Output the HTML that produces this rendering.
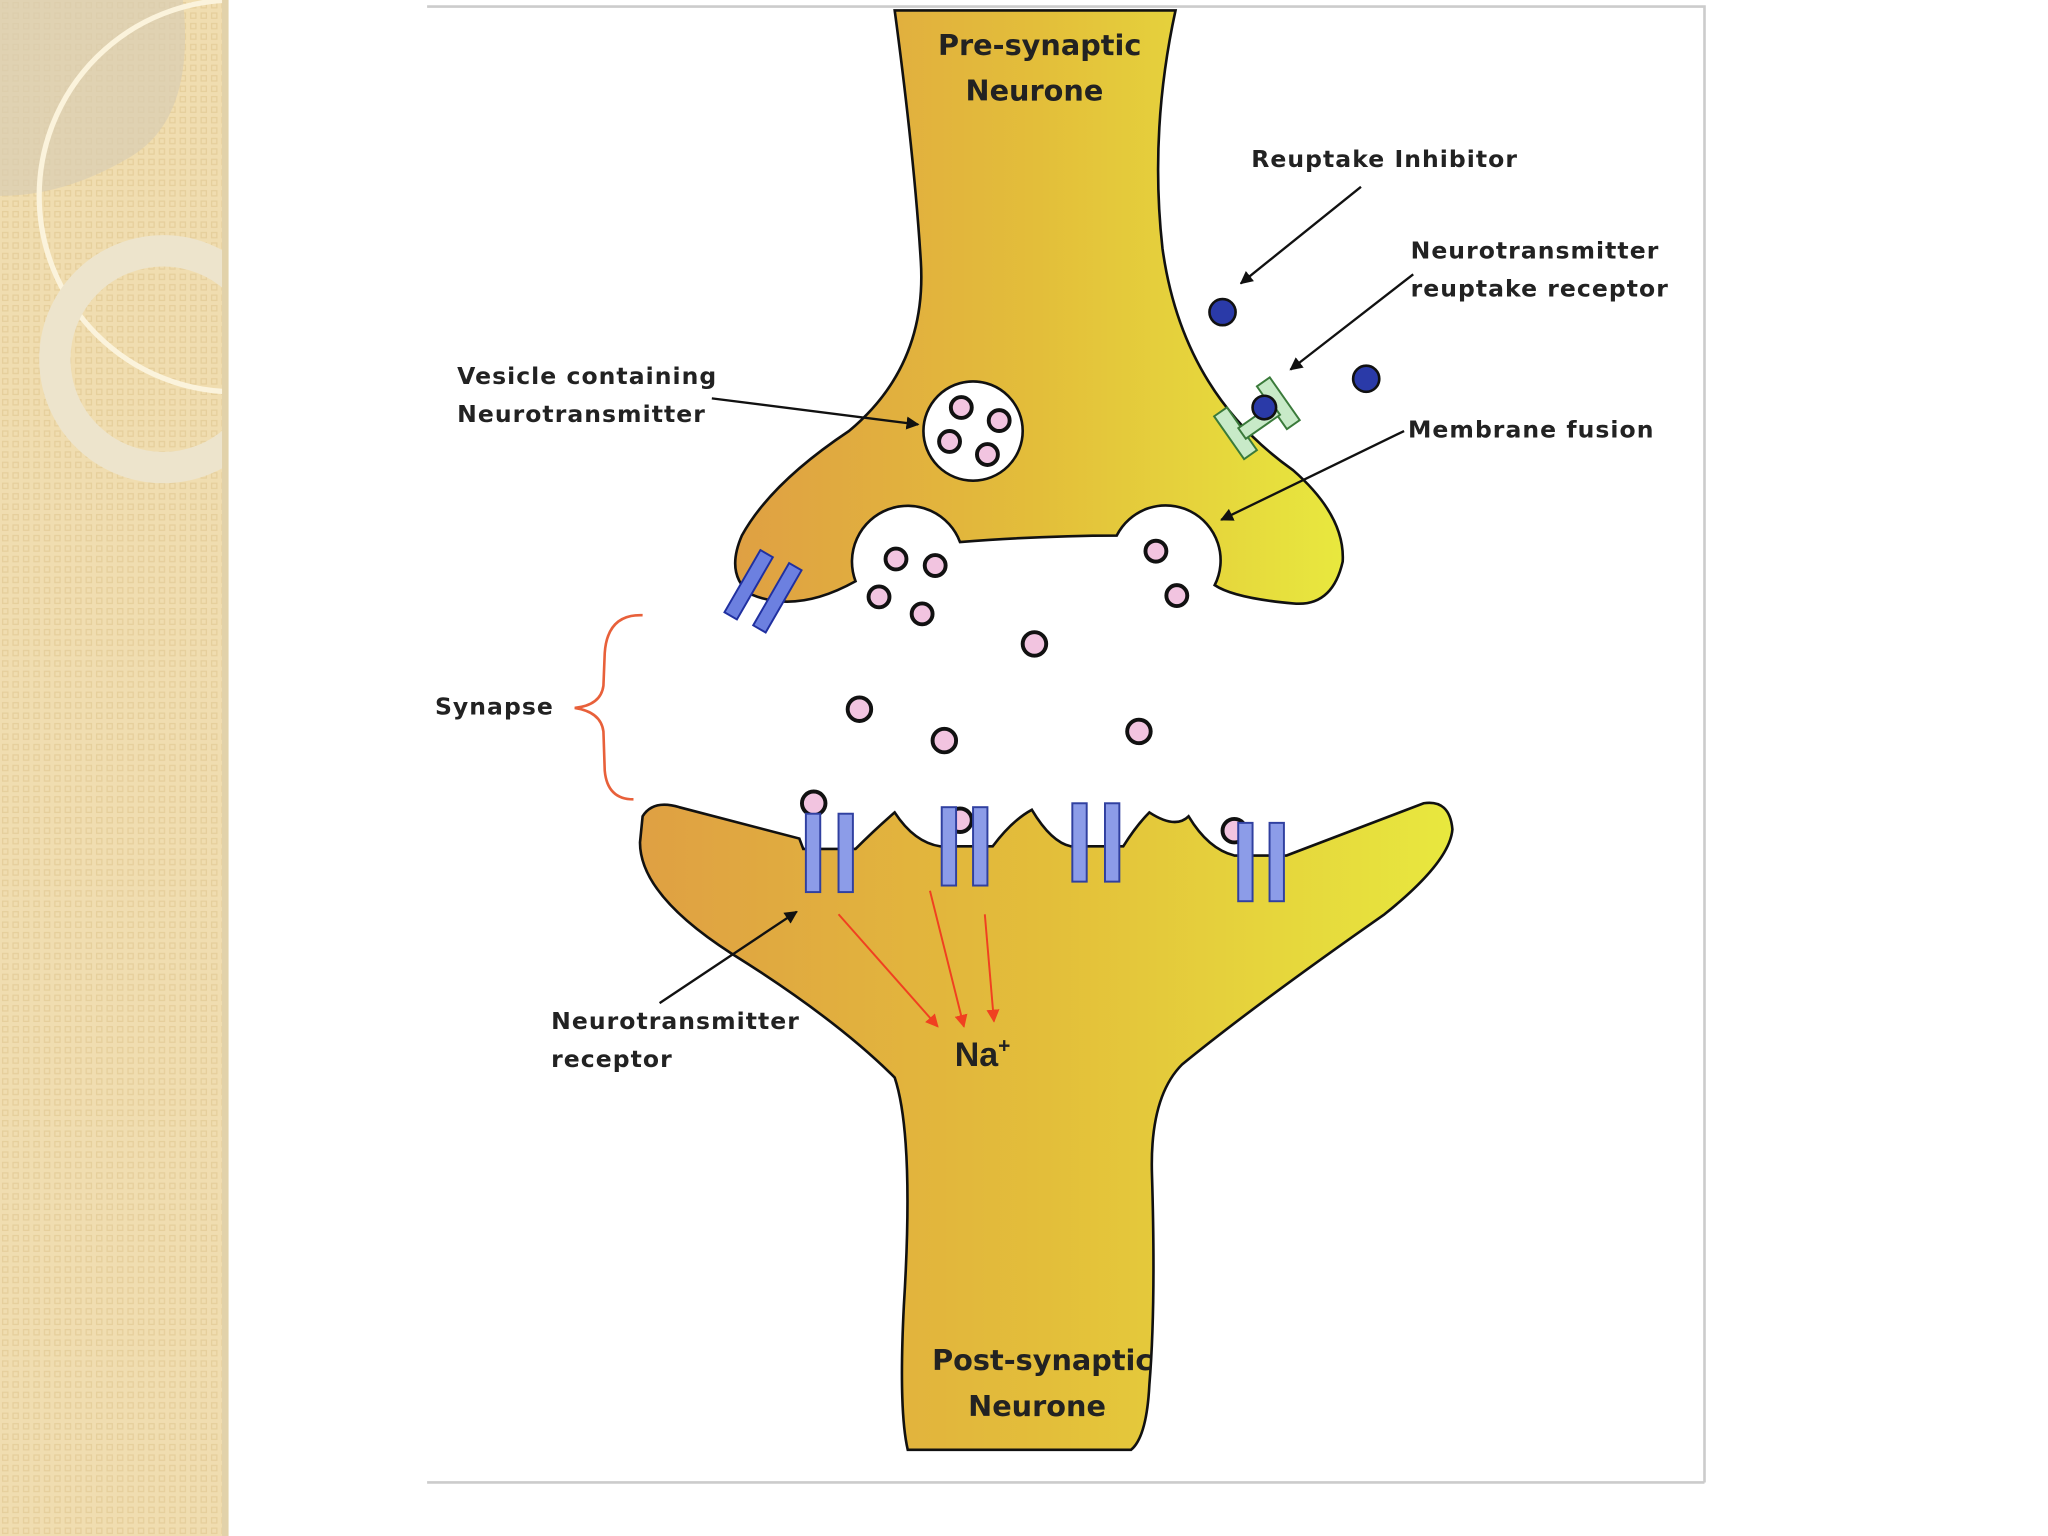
<!DOCTYPE html>
<html><head><meta charset="utf-8"><style>
html,body{margin:0;padding:0;background:#fff;}
svg{display:block;}
text{font-family:"DejaVu Sans","Liberation Sans",sans-serif;font-weight:bold;fill:#222;}
</style></head><body>
<svg width="2048" height="1536" viewBox="0 0 1568 1176" xmlns="http://www.w3.org/2000/svg">
<defs>
<linearGradient id="g" x1="0" x2="1" y1="0" y2="0">
<stop offset="0" stop-color="#DFA043"/><stop offset="0.5" stop-color="#E3BE3A"/><stop offset="1" stop-color="#E8E83E"/>
</linearGradient>
<pattern id="p" width="8" height="8" patternUnits="userSpaceOnUse">
<rect width="8" height="8" fill="#F0DDB0"/><rect x="2" y="2" width="4" height="4" fill="none" stroke="#E6CF9C" stroke-width="1"/>
</pattern>
<clipPath id="cp"><rect x="0" y="0" width="173" height="1176"/></clipPath>
<marker id="ab" markerWidth="10" markerHeight="10" refX="9" refY="5" orient="auto" markerUnits="userSpaceOnUse"><path d="M0,0 L10,5 L0,10 z" fill="#111"/></marker>
<marker id="ar" markerWidth="10" markerHeight="10" refX="9" refY="5" orient="auto" markerUnits="userSpaceOnUse"><path d="M0,0 L10,5 L0,10 z" fill="#F04020"/></marker>
</defs>
<g clip-path="url(#cp)">
<rect x="0" y="0" width="173" height="1176" fill="url(#p)"/>
<path d="M0,0 L140,0 Q150,90 100,120 Q50,150 0,150 z" fill="#D8CDB3" opacity="0.7"/>
<circle cx="180" cy="150" r="150" fill="none" stroke="#FBF3DC" stroke-width="4"/>
<circle cx="125" cy="275" r="83" fill="none" stroke="#EDE4CC" stroke-width="24"/>
</g>
<rect x="170" y="0" width="5" height="1176" fill="#E2D2AA"/>
<path d="M327,5 L1305,5 L1305,1135 M327,1135 L1305,1135" fill="none" stroke="#ccc" stroke-width="2"/>
<path d="M685,8 L900,8 Q880,100 890,190 Q905,300 990,360 Q1030,395 1028,430 Q1020,465 990,462 Q945,458 930,448 A38,38 0 0 0 855,410 Q800,410 735,415 A40,40 0 0 0 655,445 Q610,470 575,455 Q555,440 568,410 Q590,370 650,330 Q710,280 705,200 Q700,120 685,8 z" fill="url(#g)" stroke="#111" stroke-width="2"/>
<path d="M492,625 Q500,612 520,618 L612,642 L615,650 L655,650 Q670,635 685,622 Q700,645 720,648 L760,648 Q775,628 790,620 Q805,645 820,648 L860,648 Q870,632 880,622 Q900,635 910,625 Q925,650 945,655 L985,655 Q1050,630 1090,615 Q1110,612 1112,635 Q1110,660 1060,700 Q960,770 905,815 Q880,840 882,900 Q885,1000 880,1060 Q878,1100 866,1110 L695,1110 Q688,1080 692,1000 Q700,870 685,825 Q640,780 560,730 Q490,685 490,645 z" fill="url(#g)" stroke="#111" stroke-width="2"/>
<circle cx="745" cy="330" r="38" fill="#fff" stroke="#111" stroke-width="2"/>
<g fill="#F2C4E0" stroke="#111" stroke-width="3">
<circle cx="736" cy="312" r="8"/><circle cx="765" cy="322" r="8"/><circle cx="727" cy="338" r="8"/><circle cx="756" cy="348" r="8"/>
<circle cx="686" cy="428" r="8"/><circle cx="716" cy="433" r="8"/><circle cx="673" cy="457" r="8"/><circle cx="706" cy="470" r="8"/>
<circle cx="885" cy="422" r="8"/><circle cx="901" cy="456" r="8"/>
<circle cx="792" cy="493" r="9"/><circle cx="658" cy="543" r="9"/><circle cx="723" cy="567" r="9"/><circle cx="872" cy="560" r="9"/>
<circle cx="623" cy="615" r="9"/><circle cx="735" cy="628" r="9"/><circle cx="945" cy="636" r="9"/>
</g>
<g fill="#8C9CE8" stroke="#3040A0" stroke-width="1.5">
<rect x="617" y="623" width="11" height="60"/><rect x="642" y="623" width="11" height="60"/>
<rect x="721" y="618" width="11" height="60"/><rect x="745" y="618" width="11" height="60"/>
<rect x="821" y="615" width="11" height="60"/><rect x="846" y="615" width="11" height="60"/>
<rect x="948" y="630" width="11" height="60"/><rect x="972" y="630" width="11" height="60"/>
</g>
<g fill="#6C80E0" stroke="#2030A0" stroke-width="1.5">
<rect x="568" y="420" width="11" height="55" transform="rotate(30 573 447)"/>
<rect x="590" y="430" width="11" height="55" transform="rotate(30 595 457)"/>
</g>
<g fill="#C8EAC8" stroke="#3A7A3A" stroke-width="1.5" transform="rotate(-35 962 318)">
<rect x="935" y="300" width="12" height="40"/><rect x="975" y="300" width="12" height="40"/><rect x="945" y="318" width="32" height="10"/>
</g>
<g fill="#2A3AA8" stroke="#111" stroke-width="2">
<circle cx="936" cy="239" r="10"/><circle cx="1046" cy="290" r="10"/><circle cx="968" cy="312" r="9"/>
</g>
<path d="M492,471 Q465,470 463,500 L462,525 Q460,540 440,542 Q460,545 462,560 L463,590 Q465,612 485,612" fill="none" stroke="#E8603A" stroke-width="2"/>
<g stroke="#111" stroke-width="1.8" fill="none" marker-end="url(#ab)">
<line x1="545" y1="305" x2="703" y2="325"/>
<line x1="1042" y1="143" x2="950" y2="217"/>
<line x1="1082" y1="210" x2="988" y2="283"/>
<line x1="1075" y1="330" x2="935" y2="398"/>
<line x1="505" y1="768" x2="610" y2="698"/>
</g>
<g stroke="#F04020" stroke-width="1.5" fill="none" marker-end="url(#ar)">
<line x1="642" y1="700" x2="718" y2="786"/>
<line x1="712" y1="682" x2="738" y2="786"/>
<line x1="754" y1="700" x2="761" y2="782"/>
</g>
<g font-size="22">
<text x="796" y="42" text-anchor="middle">Pre-synaptic</text>
<text x="792" y="77" text-anchor="middle">Neurone</text>
<text x="798" y="1049" text-anchor="middle">Post-synaptic</text>
<text x="794" y="1084" text-anchor="middle">Neurone</text>
</g>
<g font-size="18" font-weight="normal" letter-spacing="0.8">
<text x="958" y="128">Reuptake Inhibitor</text>
<text x="1080" y="198">Neurotransmitter</text>
<text x="1080" y="227">reuptake receptor</text>
<text x="1078" y="335">Membrane fusion</text>
<text x="350" y="294">Vesicle containing</text>
<text x="350" y="323">Neurotransmitter</text>
<text x="333" y="547">Synapse</text>
<text x="422" y="788">Neurotransmitter</text>
<text x="422" y="817">receptor</text>
</g>
<text x="731" y="816" font-size="26" font-weight="normal" style="font-family:'Liberation Sans',sans-serif">Na<tspan font-size="16" dy="-10">+</tspan></text>
</svg>
</body></html>
